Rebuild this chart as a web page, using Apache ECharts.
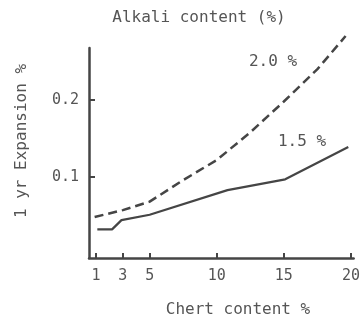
<!DOCTYPE html>
<html>
<head>
<meta charset="utf-8">
<script src="https://cdn.jsdelivr.net/npm/echarts@6/dist/echarts.min.js"></script>
<style>
  html, body { margin: 0; padding: 0; background: #ffffff; }
  #chart { width: 363px; height: 320px; }
</style>
</head>
<body>
<div id="chart"></div>
<script>
// Chert content (%) tick values
var xTicks = [1, 3, 5, 10, 15, 20];
// 1 yr expansion (%) tick values
var yTicks = [0.1, 0.2];
// Alkali content 1.5 % (solid)
var chert15 = [1.1, 2.2, 2.9, 5, 10.8, 15.1, 19.8];
var exp15 = [0.032, 0.032, 0.044, 0.051, 0.083, 0.097, 0.139];
// Alkali content 2.0 % (dashed)
var chert20 = [0.9, 3, 5, 7.5, 10, 12.5, 15, 17.5, 19.6];
var exp20 = [0.048, 0.057, 0.068, 0.096, 0.122, 0.158, 0.198, 0.240, 0.283];

function pairs(xs, ys) { return xs.map(function (x, i) { return [x, ys[i]]; }); }

var FONT = '"DejaVu Sans Mono", "Liberation Mono", monospace';
var INK = '#454545';
var TXT = '#555555';

var chart = echarts.init(document.getElementById('chart'), null, { renderer: 'canvas' });
chart.setOption({
  backgroundColor: '#ffffff',
  animation: false,
  grid: { left: 89, right: 6, top: 48, bottom: 62, containLabel: false },
  xAxis: {
    type: 'value',
    min: 0.48,
    max: 20.2,
    splitLine: { show: false },
    axisLine: { onZero: false, lineStyle: { color: INK, width: 2.5 } },
    axisTick: { inside: true, length: 5, customValues: xTicks, lineStyle: { color: INK, width: 2 } },
    axisLabel: { customValues: xTicks, margin: 11, fontFamily: FONT, fontSize: 15, color: TXT }
  },
  yAxis: {
    type: 'value',
    min: -0.0052,
    max: 0.2675,
    splitLine: { show: false },
    axisLine: { onZero: false, lineStyle: { color: INK, width: 2.5 } },
    axisTick: { inside: true, length: 6, customValues: yTicks, lineStyle: { color: INK, width: 2 } },
    axisLabel: { customValues: yTicks, margin: 10, fontFamily: FONT, fontSize: 15, color: TXT,
      formatter: function (v) { return v.toFixed(1); } }
  },
  series: [
    {
      name: '1.5 %', type: 'line', data: pairs(chert15, exp15),
      showSymbol: false, clip: false, silent: true,
      lineStyle: { color: INK, width: 2.2 }
    },
    {
      name: '2.0 %', type: 'line', data: pairs(chert20, exp20),
      showSymbol: false, clip: false, silent: true,
      lineStyle: { color: INK, width: 2.5, type: [9, 5] }
    }
  ],
  graphic: [
    { type: 'text', x: 199, y: 18, style: { text: 'Alkali content (%)', font: '16px ' + FONT, fill: TXT, align: 'center', verticalAlign: 'middle' } },
    { type: 'text', x: 238, y: 310, style: { text: 'Chert content %', font: '16px ' + FONT, fill: TXT, align: 'center', verticalAlign: 'middle' } },
    { type: 'text', x: 22, y: 141, rotation: Math.PI / 2, style: { text: '1 yr Expansion %', font: '16px ' + FONT, fill: TXT, align: 'center', verticalAlign: 'middle' } },
    { type: 'text', x: 273, y: 62, style: { text: '2.0 %', font: '16px ' + FONT, fill: TXT, align: 'center', verticalAlign: 'middle' } },
    { type: 'text', x: 302, y: 142, style: { text: '1.5 %', font: '16px ' + FONT, fill: TXT, align: 'center', verticalAlign: 'middle' } }
  ]
});
</script>
</body>
</html>
